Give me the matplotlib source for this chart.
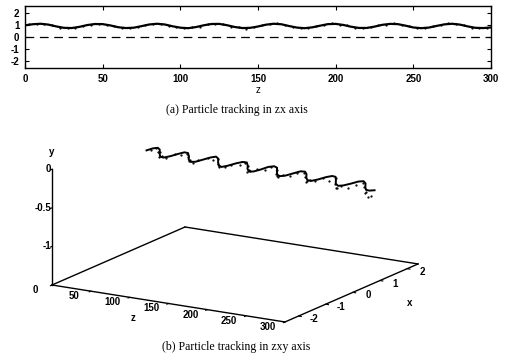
import numpy as np
import matplotlib
matplotlib.use("Agg")
import matplotlib.pyplot as plt
from mpl_toolkits.mplot3d import proj3d

plt.rcParams["font.family"] = ["Liberation Sans", "DejaVu Sans"]
plt.rcParams["font.weight"] = "bold"
plt.rcParams["axes.unicode_minus"] = False

# tracked trajectory, every 5 units of z
z_pos = [0, 5, 10, 15, 20, 25, 30, 35, 40, 45,
         50, 55, 60, 65, 70, 75, 80, 85, 90, 95,
         100, 105, 110, 115, 120, 125, 130, 135, 140, 145,
         150, 155, 160, 165, 170, 175, 180, 185, 190, 195,
         200, 205, 210, 215, 220, 225, 230, 235, 240, 245,
         250, 255, 260, 265, 270, 275, 280, 285, 290, 295,
         300]
x_track = [0.98, 1.07, 1.11, 1.04, 0.89, 0.77, 0.75, 0.85, 1.00, 1.09,
           1.08, 0.97, 0.82, 0.75, 0.78, 0.91, 1.05, 1.11, 1.05, 0.90,
           0.78, 0.74, 0.83, 0.98, 1.09, 1.10, 0.99, 0.84, 0.75, 0.77,
           0.88, 1.03, 1.11, 1.07, 0.92, 0.79, 0.74, 0.81, 0.95, 1.08,
           1.10, 1.01, 0.86, 0.76, 0.76, 0.87, 1.02, 1.10, 1.08, 0.95,
           0.80, 0.74, 0.79, 0.93, 1.06, 1.11, 1.04, 0.89, 0.77, 0.75,
           0.80]
y_track = [-0.29, -0.27, -0.26, -0.265, -0.28, -0.30, -0.30, -0.29, -0.275, -0.26,
           -0.26, -0.275, -0.29, -0.30, -0.295, -0.28, -0.265, -0.255, -0.265, -0.28,
           -0.295, -0.30, -0.29, -0.275, -0.265, -0.265, -0.28, -0.295, -0.305, -0.30,
           -0.285, -0.265, -0.26, -0.265, -0.28, -0.295, -0.30, -0.295, -0.28, -0.265,
           -0.265, -0.275, -0.29, -0.30, -0.30, -0.29, -0.275, -0.265, -0.265, -0.28,
           -0.295, -0.305, -0.30, -0.29, -0.275, -0.27, -0.28, -0.295, -0.305, -0.305,
           -0.30]

# measured particle positions (dotted points)
z_meas = [2.5, 7.5, 12.5, 17.5, 22.5, 27.5, 32.5, 37.5, 42.5, 47.5,
          52.5, 57.5, 62.5, 67.5, 72.5, 77.5, 82.5, 87.5, 92.5, 97.5,
          102.5, 107.5, 112.5, 117.5, 122.5, 127.5, 132.5, 137.5, 142.5, 147.5,
          152.5, 157.5, 162.5, 167.5, 172.5, 177.5, 182.5, 187.5, 192.5, 197.5,
          202.5, 207.5, 212.5, 217.5, 222.5, 227.5, 232.5, 237.5, 242.5, 247.5,
          252.5, 257.5, 262.5, 267.5, 272.5, 277.5, 282.5, 287.5, 292.5, 297.5]
x_meas = [1.06, 1.13, 1.05, 0.99, 0.79, 0.77, 0.76, 0.95, 1.03, 1.13,
          1.01, 0.92, 0.75, 0.78, 0.82, 1.02, 1.07, 1.12, 0.95, 0.86,
          0.72, 0.80, 0.87, 1.07, 1.09, 1.08, 0.88, 0.81, 0.71, 0.85,
          0.99, 1.06, 1.14, 0.97, 0.88, 0.72, 0.79, 0.92, 1.00, 1.15,
          1.04, 0.97, 0.77, 0.78, 0.83, 0.98, 1.04, 1.16, 0.99, 0.91,
          0.73, 0.79, 0.89, 1.03, 1.15, 1.06, 1.00, 0.79, 0.78, 0.74]
y_meas = [-0.29, -0.27, -0.30, -0.28, -0.31, -0.29, -0.30, -0.27, -0.29, -0.28,
          -0.30, -0.32, -0.29, -0.31, -0.28, -0.27, -0.30, -0.28, -0.31, -0.33,
          -0.29, -0.30, -0.28, -0.30, -0.27, -0.31, -0.34, -0.30, -0.29, -0.28,
          -0.30, -0.27, -0.31, -0.33, -0.35, -0.30, -0.29, -0.31, -0.28, -0.30,
          -0.32, -0.36, -0.33, -0.30, -0.31, -0.29, -0.32, -0.30, -0.34, -0.37,
          -0.33, -0.31, -0.35, -0.32, -0.30, -0.34, -0.38, -0.36, -0.40, -0.37]

z_ticks = [0, 50, 100, 150, 200, 250, 300]
zx_ticks = [-2, -1, 0, 1, 2]
x_ticks = [-2, -1, 0, 1, 2]
y_ticks = [-1, -0.5, 0]
y_ticklabels = ["-1", "-0.5", "0"]

z_lim = (0, 300)
x_lim = (-2.5, 2.4)
y_lim = (-1.5, 0)

W, H = 509, 360
fig = plt.figure(figsize=(W / 100, H / 100), dpi=100)


def px_box(l, t, r, b):
    return [l / W, 1 - b / H, (r - l) / W, (b - t) / H]


# (a) z-x view
ax1 = fig.add_axes(px_box(25, 6, 491, 68))
ax1.set_zorder(3)
ax1.plot(z_pos, x_track, color="black", lw=1.6)
ax1.plot(z_meas, x_meas, ls="none", marker=".", ms=1.2, color="black")
ax1.axhline(0, color="black", lw=0.9, dashes=(7, 4.5))
ax1.set_xlim(0, 300)
ax1.set_ylim(-2.6, 2.6)
ax1.set_xticks(z_ticks)
ax1.set_yticks(zx_ticks)
ax1.tick_params(direction="in", top=True, right=True, length=3, width=0.8,
                labelsize=7, pad=4)
for s in ax1.spines.values():
    s.set_linewidth(1)
ax1.set_xlabel("z", fontsize=7, labelpad=1)

fig.text(237 / W, 1 - 110 / H, "(a) Particle tracking in zx axis",
         family="Liberation Serif", weight="normal", fontsize=8.5,
         ha="center", va="center")

# (b) z-x-y view
ax2 = fig.add_axes(px_box(60, 40, 400, 380), projection="3d")
ax2.set_facecolor("none")
ax2.set_proj_type("ortho")
ax2.view_init(elev=15.25, azim=-58.9)
ax2.set_box_aspect((272, 257.5, 120))
ax2.plot(z_pos, x_track, y_track, color="black", lw=1.4)
ax2.plot(z_meas, x_meas, y_meas, ls="none", marker=".", ms=1.2, color="black")

# remaining edges of the floor
ax2.plot([z_lim[0], z_lim[1]], [x_lim[1], x_lim[1]], [y_lim[0], y_lim[0]],
         color="black", lw=1)
ax2.plot([z_lim[0], z_lim[0]], [x_lim[0], x_lim[1]], [y_lim[0], y_lim[0]],
         color="black", lw=1)

ax2.set_xlim(*z_lim)
ax2.set_ylim(*x_lim)
ax2.set_zlim(*y_lim)
ax2.set_xticks(z_ticks)
ax2.set_yticks(x_ticks)
ax2.set_zticks(y_ticks)
ax2.set_xticklabels([])
ax2.set_yticklabels([])
ax2.set_zticklabels([])
ax2.zaxis.set_ticks_position("lower")
ax2.grid(False)
for axis in (ax2.xaxis, ax2.yaxis, ax2.zaxis):
    axis.pane.fill = False
    axis.pane.set_edgecolor("none")
    axis.line.set_color("black")
    axis.line.set_linewidth(1)
    axis._axinfo["tick"]["inward_factor"] = 0.15
    axis._axinfo["tick"]["outward_factor"] = 0.0

# fit the projected floor onto the frame of the scan
fig.canvas.draw()


def to_px(zv, xv, yv):
    xs, ys, _ = proj3d.proj_transform(np.array([zv]), np.array([xv]),
                                      np.array([yv]), ax2.get_proj())
    return ax2.transData.transform((xs[0], ys[0]))


p_left = to_px(z_lim[0], x_lim[0], y_lim[0])
p_right = to_px(z_lim[1], x_lim[1], y_lim[0])
t_left = np.array([52, H - 285])
t_right = np.array([418, H - 264])
k = (t_right[0] - t_left[0]) / (p_right[0] - p_left[0])
bb = ax2.get_position().transformed(fig.transFigure)
c_ax = np.array([(bb.x0 + bb.x1) / 2, (bb.y0 + bb.y1) / 2])
c_new = t_left - k * (p_left - c_ax)
w_new, h_new = bb.width * k, bb.height * k
ax2.set_position([(c_new[0] - w_new / 2) / W, (c_new[1] - h_new / 2) / H,
                  w_new / W, h_new / H])
fig.canvas.draw()


def label3d(zv, xv, yv, s, dx, dy, ha="center"):
    # plain text placed at the projected 3D point, nudged by (dx, dy) pixels
    p = to_px(zv, xv, yv)
    fig.text((p[0] + dx) / W, (p[1] + dy) / H, s, fontsize=7,
             ha=ha, va="center")


for t in z_ticks:
    label3d(t, x_lim[0], y_lim[0], str(t), -17, -5)
for t in x_ticks:
    label3d(z_lim[1], t, y_lim[0], str(t), 15, -3)
for t, s in zip(y_ticks, y_ticklabels):
    label3d(z_lim[0], x_lim[0], t, s, -1, 0, ha="right")
label3d(150, x_lim[0], y_lim[0], "z", -35, -15)
label3d(z_lim[1], 0, y_lim[0], "x", 57, -11)
label3d(z_lim[0], x_lim[0], y_lim[1], "y", 0, 17)

fig.text(236 / W, 1 - 347 / H, "(b) Particle tracking in zxy axis",
         family="Liberation Serif", weight="normal", fontsize=8.5,
         ha="center", va="center")

fig.savefig("out.png", dpi=100)
